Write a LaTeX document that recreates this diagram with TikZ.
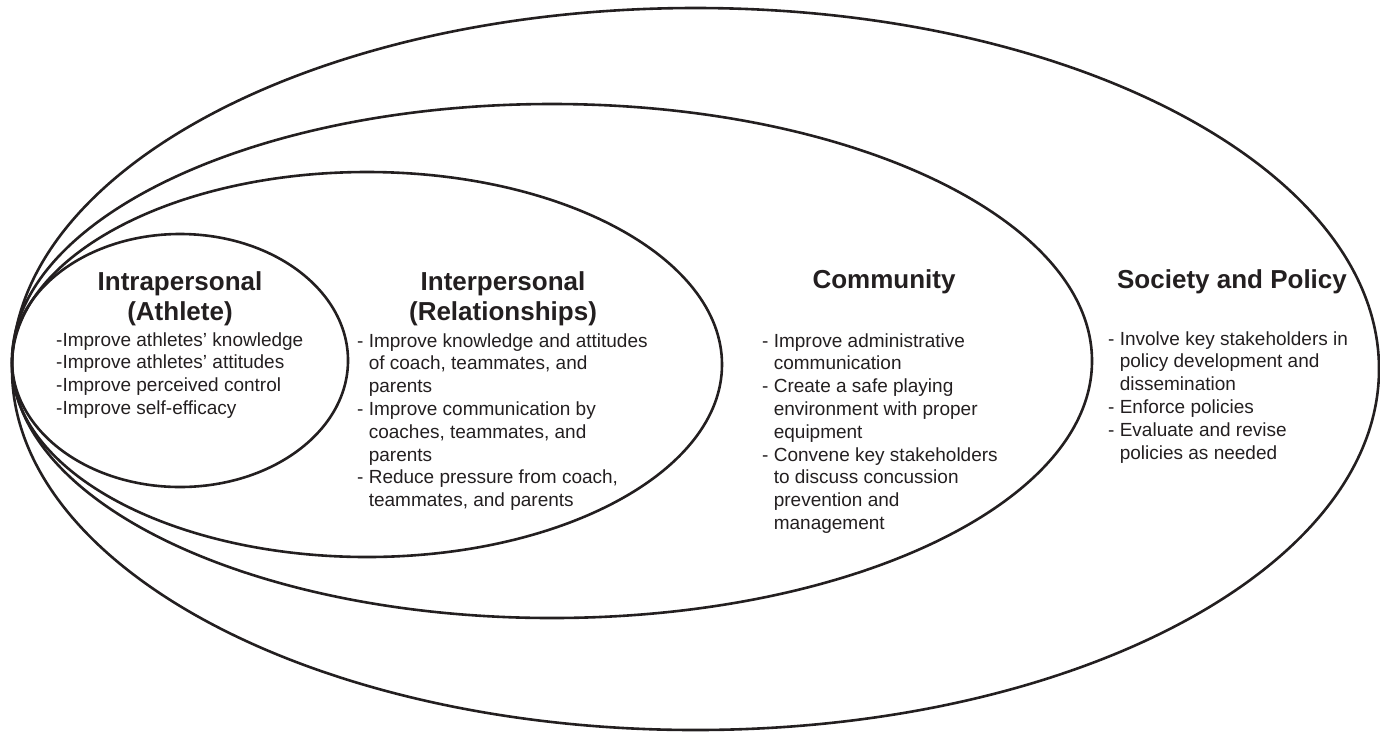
\documentclass[tikz,border=0pt]{standalone}
\usepackage{fontspec}
\setmainfont{Liberation Sans}
\usetikzlibrary{shapes.geometric}
\definecolor{ink}{RGB}{35,31,32}
\begin{document}
\begin{tikzpicture}[x=1pt,y=-1pt,
  ring/.style={draw=ink, line width=2.6pt, ellipse, inner sep=0pt, outer sep=0pt},
  ttl/.style={anchor=base, inner sep=0pt, text=ink, font=\fontsize{26}{30}\selectfont\bfseries},
  body/.style={anchor=base west, inner sep=0pt, text=ink, font=\fontsize{19}{22.8}\selectfont}]
\useasboundingbox (0,0) rectangle (1380,732);
% rings
\node[ring, minimum width=1367pt, minimum height=722pt] (soc) at (695.5,369) {};
\node[ring, minimum width=1080pt, minimum height=514pt] (com) at (552,361) {};
\node[ring, minimum width=710pt, minimum height=385pt] (inter) at (367,364.5) {};
\node[ring, minimum width=336pt, minimum height=253pt] (intra) at (180,360.5) {};
% titles
\node[ttl] (tintra) at (180,290) {\begin{tabular}[t]{@{}c@{}}Intrapersonal\\(Athlete)\end{tabular}};
\node[ttl] (tinter) at (503,290) {\begin{tabular}[t]{@{}c@{}}Interpersonal\\(Relationships)\end{tabular}};
\node[ttl] (tcom) at (884,288) {\begin{tabular}[t]{@{}c@{}}Community\end{tabular}};
\node[ttl] (tsoc) at (1232,288) {\begin{tabular}[t]{@{}c@{}}Society and Policy\end{tabular}};
% bodies
\node[body] (bintra) at (56,346) {\begin{tabular}[t]{@{}l@{}}
-Improve athletes’ knowledge\\
-Improve athletes’ attitudes\\
-Improve perceived control\\
-Improve self-efficacy\end{tabular}};
\node[body] (binter) at (357,347) {\begin{tabular}[t]{@{}l@{}}
- Improve knowledge and attitudes\\
\phantom{- }of coach, teammates, and\\
\phantom{- }parents\\
- Improve communication by\\
\phantom{- }coaches, teammates, and\\
\phantom{- }parents\\
- Reduce pressure from coach,\\
\phantom{- }teammates, and parents\end{tabular}};
\node[body] (bcom) at (762,347) {\begin{tabular}[t]{@{}l@{}}
- Improve administrative\\
\phantom{- }communication\\
- Create a safe playing\\
\phantom{- }environment with proper\\
\phantom{- }equipment\\
- Convene key stakeholders\\
\phantom{- }to discuss concussion\\
\phantom{- }prevention and\\
\phantom{- }management\end{tabular}};
\node[body] (bsoc) at (1108,345) {\begin{tabular}[t]{@{}l@{}}
- Involve key stakeholders in\\
\phantom{- }policy development and\\
\phantom{- }dissemination\\
- Enforce policies\\
- Evaluate and revise\\
\phantom{- }policies as needed\end{tabular}};
\end{tikzpicture}
\end{document}
